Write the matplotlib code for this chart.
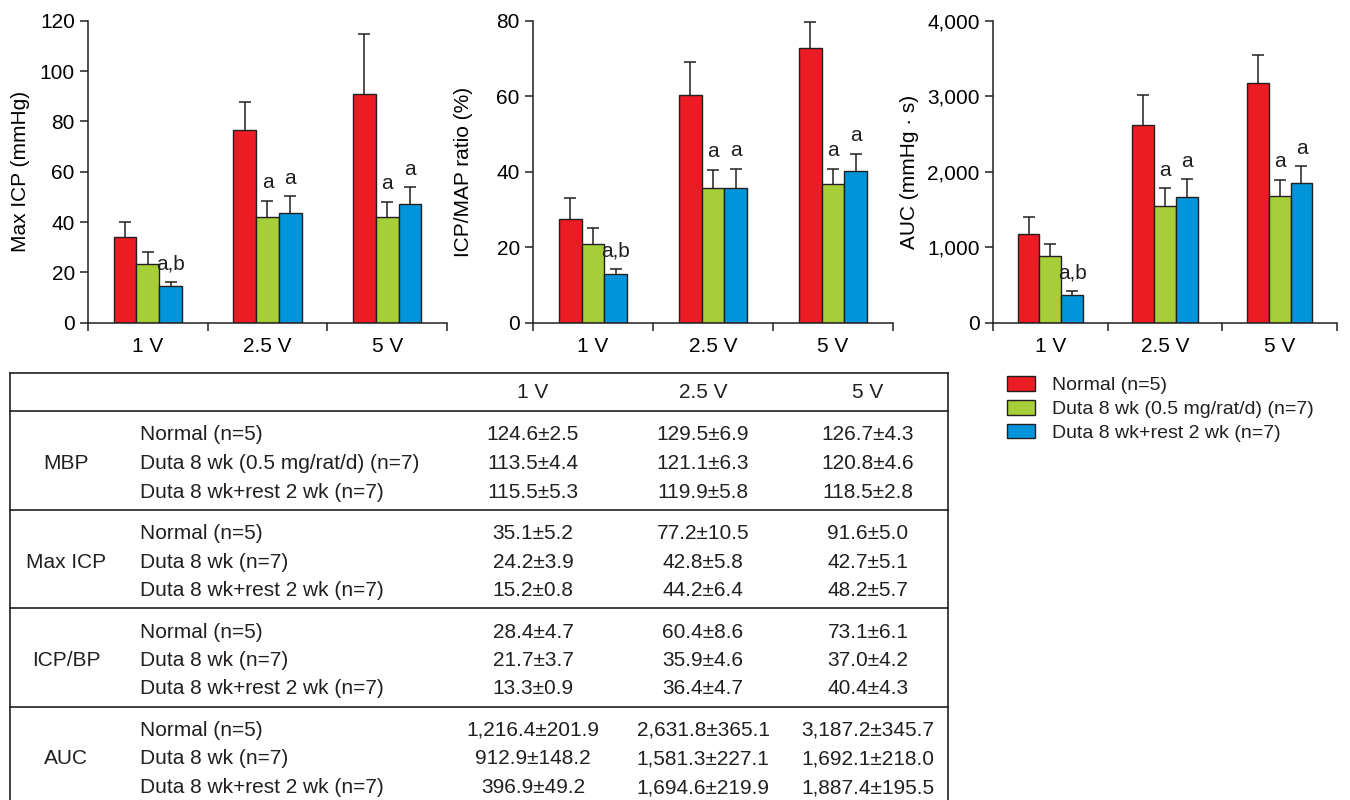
import numpy as np
import matplotlib
matplotlib.use("Agg")
import matplotlib.pyplot as plt
from matplotlib.ticker import FuncFormatter
from matplotlib.patches import Patch

plt.rcParams['font.family'] = ['Liberation Sans', 'DejaVu Sans']
plt.rcParams['text.color'] = '#231f20'

voltages = ['1 V', '2.5 V', '5 V']
groups = ['Normal (n=5)', 'Duta 8 wk (0.5 mg/rat/d) (n=7)', 'Duta 8 wk+rest 2 wk (n=7)']
colors = ['#ed1c24', '#a6ce39', '#0095da']
ink = '#231f20'

# bar heights and upper error (Normal, Duta, Duta+rest)
max_icp = [[34.0, 76.6, 90.9], [23.2, 41.9, 41.9], [14.6, 43.7, 47.3]]
max_icp_err = [[6.1, 11.0, 23.8], [4.8, 6.6, 6.1], [1.4, 6.6, 6.6]]

icp_map = [[27.5, 60.2, 72.9], [20.8, 35.6, 36.7], [12.8, 35.8, 40.3]]
icp_map_err = [[5.5, 8.9, 6.8], [4.4, 4.9, 4.1], [1.3, 5.0, 4.4]]

auc = [[1175, 2614, 3179], [883, 1546, 1674], [363, 1669, 1854]]
auc_err = [[229, 398, 363], [163, 234, 220], [57, 230, 217]]

# significance letters over each bar
letters = [['', '', ''], ['', 'a', 'a'], ['a,b', 'a', 'a']]

# table below the charts
table_blocks = ['MBP', 'Max ICP', 'ICP/BP', 'AUC']
table_rows = [
    ['Normal (n=5)', 'Duta 8 wk (0.5 mg/rat/d) (n=7)', 'Duta 8 wk+rest 2 wk (n=7)'],
    ['Normal (n=5)', 'Duta 8 wk (n=7)', 'Duta 8 wk+rest 2 wk (n=7)'],
    ['Normal (n=5)', 'Duta 8 wk (n=7)', 'Duta 8 wk+rest 2 wk (n=7)'],
    ['Normal (n=5)', 'Duta 8 wk (n=7)', 'Duta 8 wk+rest 2 wk (n=7)'],
]
tab_mbp = [['124.6±2.5', '129.5±6.9', '126.7±4.3'],
           ['113.5±4.4', '121.1±6.3', '120.8±4.6'],
           ['115.5±5.3', '119.9±5.8', '118.5±2.8']]
tab_maxicp = [['35.1±5.2', '77.2±10.5', '91.6±5.0'],
              ['24.2±3.9', '42.8±5.8', '42.7±5.1'],
              ['15.2±0.8', '44.2±6.4', '48.2±5.7']]
tab_icpbp = [['28.4±4.7', '60.4±8.6', '73.1±6.1'],
             ['21.7±3.7', '35.9±4.6', '37.0±4.2'],
             ['13.3±0.9', '36.4±4.7', '40.4±4.3']]
tab_auc = [['1,216.4±201.9', '2,631.8±365.1', '3,187.2±345.7'],
           ['912.9±148.2', '1,581.3±227.1', '1,692.1±218.0'],
           ['396.9±49.2', '1,694.6±219.9', '1,887.4±195.5']]
table_values = [tab_mbp, tab_maxicp, tab_icpbp, tab_auc]

fig = plt.figure(figsize=(13.5, 8), dpi=100)

# ---- table (drawn in pixel coordinates) ----
tab = fig.add_axes([0, 0, 1, 1])
tab.set_xlim(0, 1350)
tab.set_ylim(800, 0)
tab.axis('off')

lw = 1.2
tab.plot([10, 948], [373, 373], color=ink, lw=lw)
tab.plot([10, 10], [373, 805], color=ink, lw=lw, clip_on=False)
tab.plot([948, 948], [373, 805], color=ink, lw=lw, clip_on=False)
col_x = [533, 703, 868]
for v, cx in zip(voltages, col_x):
    tab.text(cx, 392, v, ha='center', va='center', fontsize=15)

block_top = [411, 509.5, 608, 706.5]
for b, name in enumerate(table_blocks):
    top = block_top[b]
    tab.plot([10, 948], [top, top], color=ink, lw=lw)
    for r in range(3):
        y = top + 24 + 28.5 * r
        tab.text(140, y, table_rows[b][r], ha='left', va='center', fontsize=15)
        for c in range(3):
            tab.text(col_x[c], y, table_values[b][r][c], ha='center', va='center', fontsize=15)
    tab.text(66, top + 24 + 28.5, name, ha='center', va='center', fontsize=15)

# ---- bar charts ----
x = np.arange(len(voltages))
width = 0.19


def bar_chart(rect, vals, errs, ymax, ystep, ylabel, labelx, comma=False):
    ax = fig.add_axes(rect)
    for i in range(3):
        pos = x + (i - 1) * width
        eb = ax.errorbar(pos, vals[i], yerr=[np.zeros(3), errs[i]], fmt='none', ecolor=ink,
                         elinewidth=1.1, capsize=4.5, capthick=1.1, zorder=1.5)
        eb[1][0].set_visible(False)  # no cap at the bar top
        ax.bar(pos, vals[i], width, color=colors[i], edgecolor=ink, linewidth=1.0, zorder=2)
        for j in range(3):
            if letters[i][j]:
                ax.annotate(letters[i][j], (pos[j], vals[i][j] + errs[i][j]), xytext=(0, 9),
                            textcoords='offset points', ha='center', va='baseline', fontsize=15)
    ax.set_xlim(-0.5, 2.5)
    ax.set_ylim(0, ymax)
    ax.set_yticks(np.arange(0, ymax + 1, ystep))
    if comma:
        ax.yaxis.set_major_formatter(FuncFormatter(lambda v, p: f'{v:,.0f}'))
    ax.set_xticks([-0.5, 0.5, 1.5, 2.5])
    ax.set_xticklabels([])
    ax.set_xticks(x, minor=True)
    ax.set_xticklabels(voltages, minor=True)
    ax.tick_params(axis='x', which='minor', length=0, pad=10, labelsize=15)
    ax.tick_params(axis='x', which='major', length=5.5, width=1.1, color=ink)
    ax.tick_params(axis='y', length=5.5, width=1.1, color=ink, pad=4, labelsize=15)
    for s in ['top', 'right']:
        ax.spines[s].set_visible(False)
    for s in ['left', 'bottom']:
        ax.spines[s].set_linewidth(1.1)
        ax.spines[s].set_color(ink)
    ax.set_ylabel(ylabel, fontsize=15)
    ax.yaxis.set_label_coords(labelx, 0.5)
    return ax


bottom = (800 - 322.7) / 800
height = 302 / 800
bar_chart([88 / 1350, bottom, 359 / 1350, height], max_icp, max_icp_err, 120, 20,
          'Max ICP (mmHg)', -0.162)
bar_chart([533 / 1350, bottom, 360 / 1350, height], icp_map, icp_map_err, 80, 20,
          'ICP/MAP ratio (%)', -0.167)
bar_chart([993 / 1350, bottom, 344 / 1350, height], auc, auc_err, 4000, 1000,
          'AUC (mmHg · s)', -0.215, comma=True)

handles = [Patch(facecolor=c, edgecolor=ink, linewidth=1.0, label=g) for c, g in zip(colors, groups)]
fig.legend(handles=handles, loc='upper left', bbox_to_anchor=(1007 / 1350, 1 - 376 / 800),
           frameon=False, fontsize=14, handlelength=1.45, handleheight=0.78,
           handletextpad=0.85, labelspacing=0.3, borderpad=0, borderaxespad=0)

plt.savefig('out.png', dpi=100)
